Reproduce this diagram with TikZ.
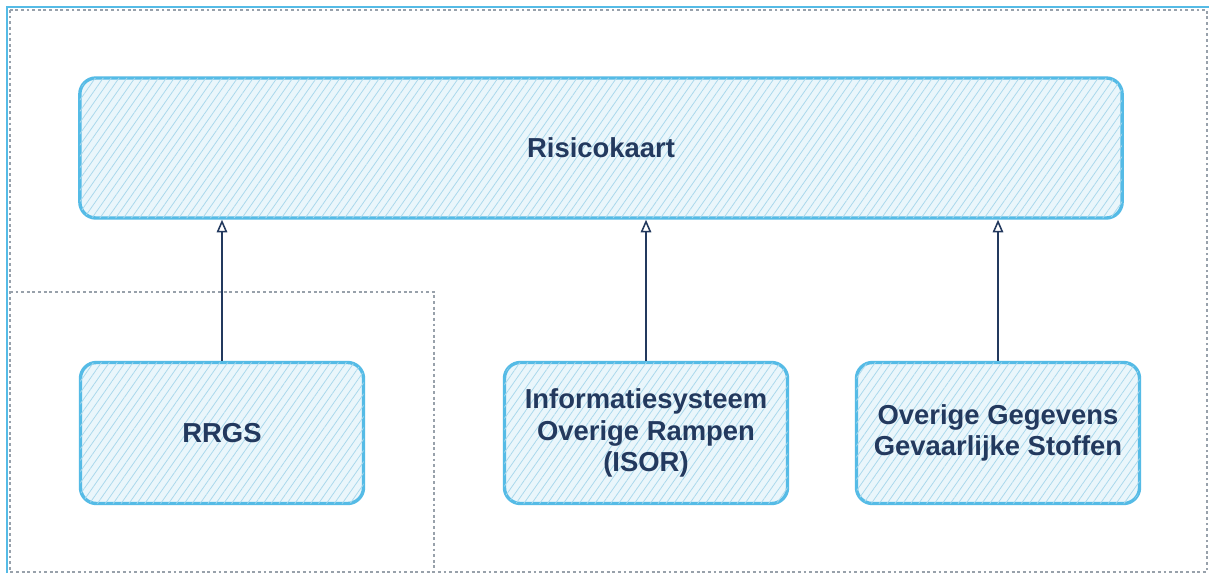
\documentclass[tikz,border=0pt]{standalone}
\usepackage{fontspec}
\setmainfont{Liberation Sans}
\usetikzlibrary{arrows.meta,patterns.meta}

\definecolor{sketch blue}{HTML}{55BBE6}
\definecolor{sketch fill}{HTML}{EAF6FB}
\definecolor{hatch blue}{HTML}{A9D8EC}
\definecolor{ink}{HTML}{23395E}
\definecolor{frame grey}{HTML}{98A1AB}

\tikzstyle{system}=[draw=sketch blue, line width=2.4pt, rounded corners=0.4cm, fill=sketch fill,
	postaction={pattern={Lines[angle=55,distance=4.6pt,line width=0.55pt]}, pattern color=hatch blue},
	text=ink, align=center, inner sep=0pt, font=\fontsize{19.5}{22.3}\selectfont\bfseries]
\tikzstyle{wide system}=[system, minimum width=26.05cm, minimum height=3.5cm]
\tikzstyle{small system}=[system, minimum width=7.075cm, minimum height=3.525cm]
\tikzstyle{feeds}=[draw=ink, line width=1.2pt, -{Triangle[open, length=9pt, width=7.5pt, line width=1.1pt]}]
\tikzstyle{frame}=[draw=frame grey, line width=1pt, dash pattern=on 2pt off 2pt]

\begin{document}
\begin{tikzpicture}[x=0.025cm, y=-0.025cm]
				\useasboundingbox[fill=white] (0,0) rectangle (1212,575);

				% Frames around the diagram
				\draw[sketch blue, line width=1.6pt] (7,573) -- (7,7) -- (1209,7);
				\draw[frame] (10,10) rectangle (1207,572);
				\draw[frame] (10,292) -- (434,292) -- (434,572);

				% Systems
				\node[wide system]  (risico)  at ( 601,148) {Risicokaart};
				\node[small system] (rrgs)    at ( 222,433) {RRGS};
				\node[small system] (isor)    at ( 646,433) {Informatiesysteem\\Overige Rampen\\(ISOR)};
				\node[small system] (stoffen) at ( 998,433) {Overige Gegevens\\Gevaarlijke Stoffen};

				% Deliveries to the Risicokaart
				\foreach \src in {rrgs, isor, stoffen}{
					\draw[feeds] (\src.north) -- (\src |- risico.south);
				}
			\end{tikzpicture}
\end{document}
